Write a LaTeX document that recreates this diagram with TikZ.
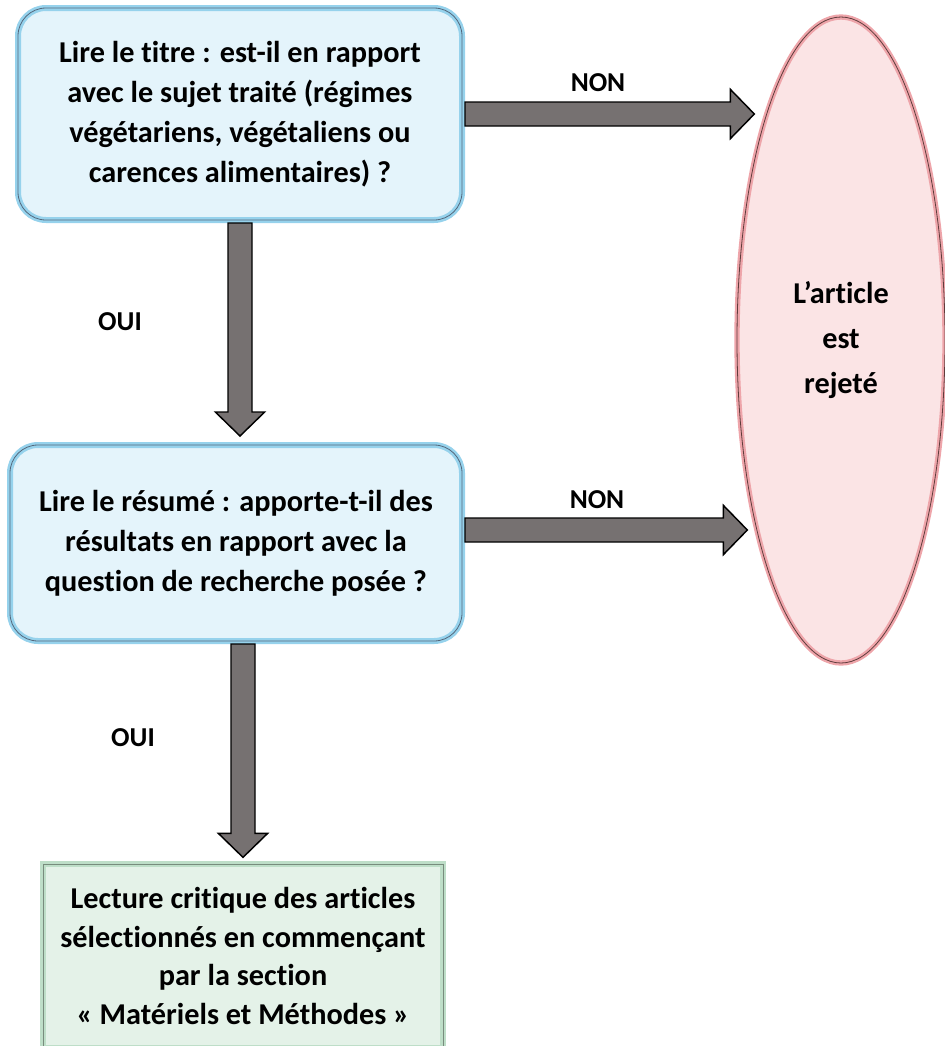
\documentclass[tikz,border=0pt]{standalone}
\usepackage{fontspec}
\setmainfont{Carlito}[Ligatures=NoCommon]
\usetikzlibrary{shapes.geometric, calc}

\definecolor{askfill}{RGB}{228,244,251}
\definecolor{askrim}{RGB}{150,210,236}
\definecolor{askline}{RGB}{85,105,125}
\definecolor{rejfill}{RGB}{251,228,229}
\definecolor{rejrim}{RGB}{238,165,170}
\definecolor{rejline}{RGB}{95,60,60}
\definecolor{readfill}{RGB}{228,242,232}
\definecolor{readrim}{RGB}{190,222,200}
\definecolor{readline}{RGB}{120,140,125}
\definecolor{arrgray}{RGB}{118,113,113}

% block arrow sizes
\newcommand{\arrshaft}{9pt}
\newcommand{\arrhead}{18.5pt}
\newcommand{\arrlen}{18pt}
\newcommand{\blockarrow}[2]{%
  \path ($(#2)!\arrlen!(#1)$) coordinate (ba-h);
  \draw[fatarrow] ($(#1)!\arrshaft!90:(#2)$) -- ($(ba-h)!\arrshaft!90:(#2)$)
    -- ($(ba-h)!\arrhead!90:(#2)$) -- (#2) -- ($(ba-h)!\arrhead!-90:(#2)$)
    -- ($(ba-h)!\arrshaft!-90:(#2)$) -- ($(#1)!\arrshaft!-90:(#2)$) -- cycle;
}

\begin{document}
\begin{tikzpicture}[x=0.75pt, y=-0.75pt,
  question/.style={rounded corners=21pt, inner sep=0pt, align=center,
    fill=askfill, draw=askrim, line width=4.5pt,
    postaction={draw=askline, line width=0.6pt},
    font=\fontsize{22.7}{30}\selectfont\bfseries},
  rejected/.style={ellipse, inner sep=0pt, align=center,
    fill=rejfill, draw=rejrim, line width=4pt,
    postaction={draw=rejline, line width=0.6pt},
    font=\fontsize{22.7}{33.75}\selectfont\bfseries},
  reading/.style={inner sep=0pt, align=center,
    fill=readfill, draw=readrim, line width=4pt,
    postaction={draw=readline, line width=0.6pt},
    font=\fontsize{22.7}{29}\selectfont\bfseries},
  answer/.style={font=\fontsize{20.5}{24}\selectfont\bfseries},
  fatarrow/.style={fill=arrgray, draw=black, line width=1.1pt, line join=miter}]
  \useasboundingbox (0,0) rectangle (945,1046);

  % Title question
  \node[question, minimum width=333pt, minimum height=159pt] (titre) at (240,114) {
    Lire le titre : est-il en rapport\\
    avec le sujet traité (régimes\\
    végétariens, végétaliens ou\\
    carences alimentaires) ?};

  % Abstract question
  \node[question, minimum width=339pt, minimum height=147pt] (resume) at (236,543) {
    Lire le résumé : apporte-t-il des\\
    résultats en rapport avec la\\
    question de recherche posée ?};

  % Rejected
  \node[rejected, minimum width=156pt, minimum height=484.5pt] (rejet) at (841,340) {
    L’article\\est\\rejeté};

  % Reading
  \node[reading, minimum width=300pt, minimum height=138pt] (lecture) at (243,956) {
    Lecture critique des articles\\
    sélectionnés en commençant\\
    par la section\\
    « Matériels et Méthodes »};

  % Arrows
  \coordinate (no1) at ($(titre.east -| rejet.west)+(20,0)$);
  \coordinate (no2s) at ($(resume.east)+(0,-13)$);
  \coordinate (no2) at ($(resume.east -| rejet.west)+(13,-13)$);
  \coordinate (yes1) at ($(titre.south |- resume.north)+(0,-6)$);
  \coordinate (yes2s) at ($(resume.south)+(7,0)$);
  \coordinate (yes2) at ($(lecture.north)+(0,-4)$);
  \blockarrow{titre.east}{no1}
  \blockarrow{no2s}{no2}
  \blockarrow{titre.south}{yes1}
  \blockarrow{yes2s}{yes2}

  % Labels
  \node[answer] (non1) at (598,83) {NON};
  \node[answer] (non2) at (597,500) {NON};
  \node[answer] (oui1) at (120,322) {OUI};
  \node[answer] (oui2) at (133,738) {OUI};
\end{tikzpicture}
\end{document}
